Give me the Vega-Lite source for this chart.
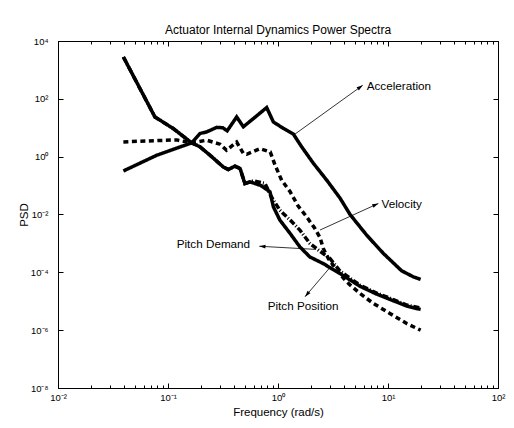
{
  "$schema": "https://vega.github.io/schema/vega-lite/v6.json",
  "autosize": "none",
  "width": 440,
  "height": 347,
  "padding": {"left": 58, "top": 41, "right": 16, "bottom": 40},
  "background": "white",
  "title": {"text": "Actuator Internal Dynamics Power Spectra", "fontSize": 12, "fontWeight": "normal", "font": "Liberation Sans", "color": "black", "offset": -1, "anchor": "middle"},
  "config": {
    "view": {"stroke": "black", "strokeWidth": 1},
    "axis": {"domainColor": "black", "tickColor": "black", "labelColor": "black", "titleColor": "black", "labelFont": "Liberation Sans", "titleFont": "Liberation Sans", "titleFontWeight": "normal", "labelFontSize": 9.5, "titleFontSize": 11.5, "grid": false, "tickSize": -4, "labelOverlap": false, "labelFlush": false}
  },
  "datasets": {
    "curves": [
      {"series": "Acceleration", "f": 0.0393, "p": 0.32},
      {"series": "Acceleration", "f": 0.079, "p": 1.12},
      {"series": "Acceleration", "f": 0.164, "p": 3.0},
      {"series": "Acceleration", "f": 0.195, "p": 6.3},
      {"series": "Acceleration", "f": 0.225, "p": 7.2},
      {"series": "Acceleration", "f": 0.277, "p": 10.3},
      {"series": "Acceleration", "f": 0.315, "p": 10.0},
      {"series": "Acceleration", "f": 0.345, "p": 7.8},
      {"series": "Acceleration", "f": 0.421, "p": 23.7},
      {"series": "Acceleration", "f": 0.484, "p": 10.8},
      {"series": "Acceleration", "f": 0.597, "p": 20.7},
      {"series": "Acceleration", "f": 0.789, "p": 50.0},
      {"series": "Acceleration", "f": 0.908, "p": 15.8},
      {"series": "Acceleration", "f": 1.12, "p": 9.5},
      {"series": "Acceleration", "f": 1.38, "p": 6.0},
      {"series": "Acceleration", "f": 1.64, "p": 2.2},
      {"series": "Acceleration", "f": 2.09, "p": 0.6},
      {"series": "Acceleration", "f": 2.77, "p": 0.155},
      {"series": "Acceleration", "f": 3.66, "p": 0.037},
      {"series": "Acceleration", "f": 4.52, "p": 0.01},
      {"series": "Acceleration", "f": 6.4, "p": 0.00193},
      {"series": "Acceleration", "f": 9.08, "p": 0.00045},
      {"series": "Acceleration", "f": 13.3, "p": 0.000113},
      {"series": "Acceleration", "f": 17.0, "p": 0.00007},
      {"series": "Acceleration", "f": 19.8, "p": 0.000057},
      {"series": "Velocity", "f": 0.0393, "p": 3.24},
      {"series": "Velocity", "f": 0.079, "p": 3.6},
      {"series": "Velocity", "f": 0.12, "p": 3.8},
      {"series": "Velocity", "f": 0.164, "p": 3.0},
      {"series": "Velocity", "f": 0.225, "p": 3.7},
      {"series": "Velocity", "f": 0.297, "p": 2.7},
      {"series": "Velocity", "f": 0.34, "p": 1.67},
      {"series": "Velocity", "f": 0.421, "p": 3.2},
      {"series": "Velocity", "f": 0.484, "p": 1.3},
      {"series": "Velocity", "f": 0.52, "p": 1.21},
      {"series": "Velocity", "f": 0.685, "p": 1.9},
      {"series": "Velocity", "f": 0.85, "p": 1.46},
      {"series": "Velocity", "f": 0.94, "p": 0.51},
      {"series": "Velocity", "f": 1.08, "p": 0.153},
      {"series": "Velocity", "f": 1.29, "p": 0.061},
      {"series": "Velocity", "f": 1.52, "p": 0.02},
      {"series": "Velocity", "f": 1.8, "p": 0.0088},
      {"series": "Velocity", "f": 2.15, "p": 0.0034},
      {"series": "Velocity", "f": 2.41, "p": 0.0016},
      {"series": "Velocity", "f": 2.58, "p": 0.00067},
      {"series": "Velocity", "f": 2.87, "p": 0.0003},
      {"series": "Velocity", "f": 3.41, "p": 0.00012},
      {"series": "Velocity", "f": 4.2, "p": 0.000047},
      {"series": "Velocity", "f": 5.56, "p": 0.0000186},
      {"series": "Velocity", "f": 7.36, "p": 0.0000084},
      {"series": "Velocity", "f": 10.4, "p": 0.0000038},
      {"series": "Velocity", "f": 14.8, "p": 0.0000017},
      {"series": "Velocity", "f": 19.8, "p": 0.000001},
      {"series": "Pitch Demand", "f": 0.0393, "p": 2800},
      {"series": "Pitch Demand", "f": 0.076, "p": 23.7},
      {"series": "Pitch Demand", "f": 0.112, "p": 9.3},
      {"series": "Pitch Demand", "f": 0.164, "p": 3.0},
      {"series": "Pitch Demand", "f": 0.195, "p": 2.2},
      {"series": "Pitch Demand", "f": 0.241, "p": 1.12},
      {"series": "Pitch Demand", "f": 0.318, "p": 0.44},
      {"series": "Pitch Demand", "f": 0.353, "p": 0.36},
      {"series": "Pitch Demand", "f": 0.406, "p": 0.47},
      {"series": "Pitch Demand", "f": 0.452, "p": 0.39},
      {"series": "Pitch Demand", "f": 0.5, "p": 0.117},
      {"series": "Pitch Demand", "f": 0.556, "p": 0.135},
      {"series": "Pitch Demand", "f": 0.7, "p": 0.1},
      {"series": "Pitch Demand", "f": 0.845, "p": 0.061},
      {"series": "Pitch Demand", "f": 0.908, "p": 0.0184},
      {"series": "Pitch Demand", "f": 1.04, "p": 0.0064},
      {"series": "Pitch Demand", "f": 1.29, "p": 0.0022},
      {"series": "Pitch Demand", "f": 1.58, "p": 0.00076},
      {"series": "Pitch Demand", "f": 1.95, "p": 0.00034},
      {"series": "Pitch Demand", "f": 2.58, "p": 0.0002},
      {"series": "Pitch Demand", "f": 3.66, "p": 0.000091},
      {"series": "Pitch Demand", "f": 5.56, "p": 0.000033},
      {"series": "Pitch Demand", "f": 7.88, "p": 0.0000177},
      {"series": "Pitch Demand", "f": 11.2, "p": 0.0000104},
      {"series": "Pitch Demand", "f": 14.8, "p": 0.0000068},
      {"series": "Pitch Demand", "f": 19.8, "p": 0.0000052},
      {"series": "Pitch Position", "f": 0.0393, "p": 2800},
      {"series": "Pitch Position", "f": 0.076, "p": 23.7},
      {"series": "Pitch Position", "f": 0.112, "p": 9.3},
      {"series": "Pitch Position", "f": 0.164, "p": 3.0},
      {"series": "Pitch Position", "f": 0.195, "p": 2.2},
      {"series": "Pitch Position", "f": 0.241, "p": 1.12},
      {"series": "Pitch Position", "f": 0.318, "p": 0.44},
      {"series": "Pitch Position", "f": 0.353, "p": 0.36},
      {"series": "Pitch Position", "f": 0.406, "p": 0.47},
      {"series": "Pitch Position", "f": 0.452, "p": 0.39},
      {"series": "Pitch Position", "f": 0.5, "p": 0.117},
      {"series": "Pitch Position", "f": 0.597, "p": 0.146},
      {"series": "Pitch Position", "f": 0.762, "p": 0.118},
      {"series": "Pitch Position", "f": 0.87, "p": 0.041},
      {"series": "Pitch Position", "f": 1.04, "p": 0.014},
      {"series": "Pitch Position", "f": 1.29, "p": 0.0064},
      {"series": "Pitch Position", "f": 1.58, "p": 0.0029},
      {"series": "Pitch Position", "f": 1.95, "p": 0.001},
      {"series": "Pitch Position", "f": 2.33, "p": 0.00059},
      {"series": "Pitch Position", "f": 2.97, "p": 0.0003},
      {"series": "Pitch Position", "f": 3.66, "p": 0.00011},
      {"series": "Pitch Position", "f": 5.56, "p": 0.000036},
      {"series": "Pitch Position", "f": 7.88, "p": 0.0000192},
      {"series": "Pitch Position", "f": 11.2, "p": 0.0000114},
      {"series": "Pitch Position", "f": 14.8, "p": 0.0000074},
      {"series": "Pitch Position", "f": 19.8, "p": 0.0000058}
    ],
    "arrows": [
      {"name": "Acceleration", "x1": 1.38, "y1": 5.5, "x2": 5.89, "y2": 294},
      {"name": "Velocity", "x1": 2.41, "y1": 0.0029, "x2": 8.17, "y2": 0.024},
      {"name": "Pitch Demand", "x1": 2.21, "y1": 0.00062, "x2": 0.676, "y2": 0.0008},
      {"name": "Pitch Position", "x1": 3.18, "y1": 0.0002, "x2": 1.76, "y2": 0.0000143}
    ],
    "labels": [
      {"text": "Acceleration", "x": 6.4, "y": 272},
      {"text": "Velocity", "x": 8.75, "y": 0.024},
      {"text": "Pitch Demand", "x": 0.12, "y": 0.00094},
      {"text": "Pitch Position", "x": 0.806, "y": 0.000007}
    ]
  },
  "resolve": {"axis": {"x": "independent", "y": "independent"}},
  "layer": [
    {
      "data": {"name": "curves"},
      "mark": {"type": "line", "color": "black", "strokeCap": "butt", "strokeJoin": "miter"},
      "encoding": {
        "x": {"field": "f", "type": "quantitative", "scale": {"type": "log", "domain": [0.01, 100]},
          "axis": {"orient": "bottom", "title": "Frequency (rad/s)", "titlePadding": 3,
            "values": [0.01,0.02,0.03,0.04,0.05,0.06,0.07,0.08,0.09,0.1,0.2,0.3,0.4,0.5,0.6,0.7,0.8,0.9,1,2,3,4,5,6,7,8,9,10,20,30,40,50,60,70,80,90,100],
            "labelPadding": 9,
            "tickSize": {"condition": {"test": "abs(log(datum.value)/LN10 - round(log(datum.value)/LN10)) < 0.001", "value": -5}, "value": -3},
            "labelExpr": "abs(log(datum.value)/LN10 - round(log(datum.value)/LN10)) < 0.001 ? '10' + replace(replace(replace(replace(replace(replace(replace('' + round(log(datum.value)/LN10), '-', '⁻'), '0', '⁰'), '1', '¹'), '2', '²'), '4', '⁴'), '6', '⁶'), '8', '⁸') : ''"}},
        "y": {"field": "p", "type": "quantitative", "scale": {"type": "log", "domain": [1e-8, 10000]},
          "axis": {"orient": "left", "title": "PSD", "titlePadding": 1,
            "values": [1e-8, 1e-6, 1e-4, 1e-2, 1, 100, 10000],
            "labelPadding": 15, "tickSize": -5,
            "labelExpr": "'10' + replace(replace(replace(replace(replace(replace(replace('' + round(log(datum.value)/LN10), '-', '⁻'), '0', '⁰'), '1', '¹'), '2', '²'), '4', '⁴'), '6', '⁶'), '8', '⁸')"}},
        "detail": {"field": "series"},
        "strokeDash": {"field": "series", "type": "nominal", "legend": null,
          "scale": {"domain": ["Acceleration", "Velocity", "Pitch Demand", "Pitch Position"], "range": [[1, 0], [5, 3.5], [1, 0], [6, 2, 1, 2]]}},
        "strokeWidth": {"field": "series", "type": "nominal", "legend": null,
          "scale": {"domain": ["Acceleration", "Velocity", "Pitch Demand", "Pitch Position"], "range": [3.5, 3.5, 3.5, 1.2]}}
      }
    },
    {
      "data": {"name": "arrows"},
      "mark": {"type": "rule", "color": "black", "strokeWidth": 0.8},
      "encoding": {
        "x": {"field": "x1", "type": "quantitative", "scale": {"type": "log", "domain": [0.01, 100]},
          "axis": {"orient": "top", "title": null, "labels": false, "domain": false,
            "values": [0.01,0.02,0.03,0.04,0.05,0.06,0.07,0.08,0.09,0.1,0.2,0.3,0.4,0.5,0.6,0.7,0.8,0.9,1,2,3,4,5,6,7,8,9,10,20,30,40,50,60,70,80,90,100],
            "tickSize": {"condition": {"test": "abs(log(datum.value)/LN10 - round(log(datum.value)/LN10)) < 0.001", "value": -5}, "value": -3}}},
        "x2": {"field": "x2"},
        "y": {"field": "y1", "type": "quantitative", "scale": {"type": "log", "domain": [1e-8, 10000]},
          "axis": {"orient": "right", "title": null, "labels": false, "domain": false, "tickSize": -5,
            "values": [1e-8, 1e-6, 1e-4, 1e-2, 1, 100, 10000]}},
        "y2": {"field": "y2"}
      }
    },
    {
      "data": {"name": "arrows"},
      "transform": [
        {"calculate": "atan2((log(datum.x2) - log(datum.x1)) / LN10 * 110, (log(datum.y2) - log(datum.y1)) / LN10 * 28.917) * 180 / PI", "as": "ang"}
      ],
      "mark": {"type": "point", "shape": "M0,0L-0.4,1.3L0.4,1.3Z", "filled": true, "color": "black", "size": 90, "opacity": 1},
      "encoding": {
        "x": {"field": "x2", "type": "quantitative", "scale": {"type": "log", "domain": [0.01, 100]}, "axis": null},
        "y": {"field": "y2", "type": "quantitative", "scale": {"type": "log", "domain": [1e-8, 10000]}, "axis": null},
        "angle": {"field": "ang", "type": "quantitative", "scale": null}
      }
    },
    {
      "data": {"name": "labels"},
      "mark": {"type": "text", "align": "left", "baseline": "middle", "font": "Liberation Sans", "fontSize": 11.7, "color": "black"},
      "encoding": {
        "x": {"field": "x", "type": "quantitative", "scale": {"type": "log", "domain": [0.01, 100]}, "axis": null},
        "y": {"field": "y", "type": "quantitative", "scale": {"type": "log", "domain": [1e-8, 10000]}, "axis": null},
        "text": {"field": "text"}
      }
    }
  ]
}
